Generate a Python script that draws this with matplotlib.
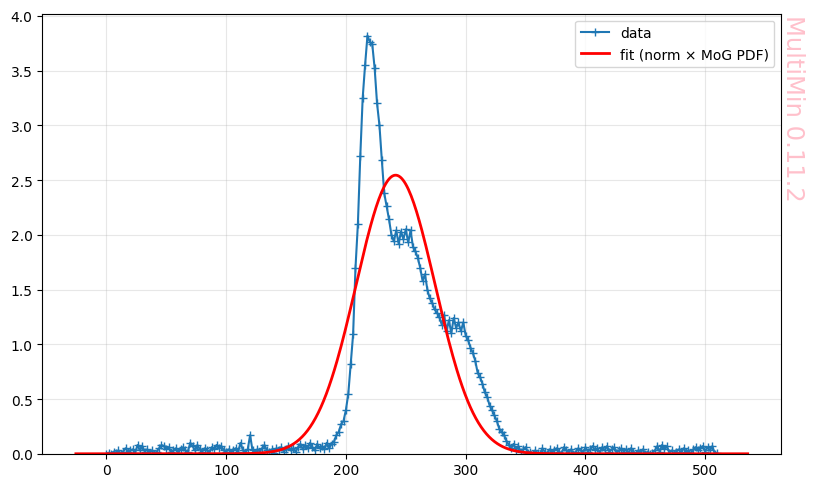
import numpy as np
import matplotlib
matplotlib.use("Agg")
import matplotlib.pyplot as plt

# data sampled every 2 units from 0 to 510
X_START, X_STOP, X_STEP = 0, 512, 2

Y_DATA = [
    # 0 - 198
    0.00, 0.01, 0.00, 0.02, 0.01, 0.03, 0.00, 0.02, 0.05, 0.02,
    0.03, 0.04, 0.01, 0.08, 0.03, 0.07, 0.02, 0.04, 0.01, 0.03,
    0.00, 0.02, 0.05, 0.08, 0.07, 0.04, 0.06, 0.02, 0.03, 0.05,
    0.01, 0.04, 0.06, 0.03, 0.02, 0.10, 0.07, 0.03, 0.08, 0.04,
    0.02, 0.05, 0.03, 0.01, 0.06, 0.04, 0.08, 0.05, 0.07, 0.03,
    0.02, 0.04, 0.01, 0.03, 0.05, 0.02, 0.10, 0.03, 0.01, 0.04,
    0.17, 0.03, 0.01, 0.04, 0.02, 0.05, 0.08, 0.03, 0.02, 0.04,
    0.01, 0.05, 0.03, 0.06, 0.02, 0.04, 0.07, 0.03, 0.05, 0.02,
    0.06, 0.09, 0.04, 0.08, 0.05, 0.10, 0.06, 0.03, 0.09, 0.05,
    0.07, 0.04, 0.10, 0.05, 0.09, 0.11, 0.17, 0.20, 0.27, 0.30,
    # 200 - 238
    0.40, 0.55, 0.82, 1.09, 1.70, 2.10, 2.72, 3.25, 3.55, 3.82,
    3.76, 3.74, 3.52, 3.20, 3.00, 2.68, 2.38, 2.26, 2.14, 2.00,
    # 240 - 254
    1.94, 2.04, 1.92, 2.03, 1.96, 2.05, 1.93, 2.04,
    # 256 - 274
    1.89, 1.85, 1.79, 1.70, 1.58, 1.64, 1.50, 1.42, 1.38, 1.32,
    # 276 - 294
    1.29, 1.25, 1.18, 1.27, 1.12, 1.22, 1.10, 1.24, 1.15, 1.20,
    # 296 - 314
    1.12, 1.20, 1.08, 1.04, 0.97, 0.92, 0.85, 0.74, 0.70, 0.64,
    # 316 - 334
    0.56, 0.52, 0.44, 0.40, 0.35, 0.30, 0.23, 0.20, 0.17, 0.12,
    # 336 - 354
    0.08, 0.05, 0.09, 0.03, 0.07, 0.02, 0.04, 0.06, 0.01, 0.02,
    # 356 - 494
    0.00, 0.03, 0.01, 0.00, 0.05, 0.02, 0.00, 0.04, 0.01, 0.03,
    0.05, 0.02, 0.00, 0.06, 0.03, 0.01, 0.04, 0.00, 0.02, 0.05,
    0.03, 0.01, 0.06, 0.02, 0.04, 0.07, 0.03, 0.05, 0.01, 0.06,
    0.03, 0.07, 0.02, 0.04, 0.06, 0.01, 0.03, 0.05, 0.02, 0.04,
    0.01, 0.05, 0.02, 0.00, 0.03, 0.01, 0.04, 0.00, 0.02, 0.00,
    0.01, 0.03, 0.07, 0.02, 0.08, 0.04, 0.07, 0.01, 0.03, 0.00,
    0.02, 0.04, 0.01, 0.05, 0.02, 0.03, 0.00, 0.04, 0.06, 0.03,
    # 496 - 510
    0.05, 0.07, 0.02, 0.06, 0.03, 0.07, 0.00, 0.01,
]

# fitted model: norm * N(mu, sigma)
FIT_NORM = 210.5
FIT_MU = 241.5
FIT_SIGMA = 33.0

x = np.arange(X_START, X_STOP, X_STEP)
y = np.array(Y_DATA)
assert len(x) == len(y)

pad = 0.05 * (x.max() - x.min())
xf = np.linspace(x.min() - pad, x.max() + pad, 500)
yf = FIT_NORM * np.exp(-0.5 * ((xf - FIT_MU) / FIT_SIGMA) ** 2) / (FIT_SIGMA * np.sqrt(2 * np.pi))

fig, ax = plt.subplots(figsize=(8.13, 4.89), dpi=100)
fig.subplots_adjust(left=0.052, right=0.961, bottom=0.07, top=0.97)

ax.plot(x, y, marker="+", ms=6, lw=1.5, color="C0", label="data")
ax.plot(xf, yf, color="red", lw=2, label="fit (norm \u00d7 MoG PDF)")
ax.set_ylim(0, 4.02)
ax.grid(alpha=0.3)
ax.legend(loc="upper right")

fig.text(0.975, 0.97, "MultiMin 0.11.2", rotation=-90, ha="center", va="top",
         fontsize=17.5, color="pink")

fig.savefig("out.png", dpi=100)
